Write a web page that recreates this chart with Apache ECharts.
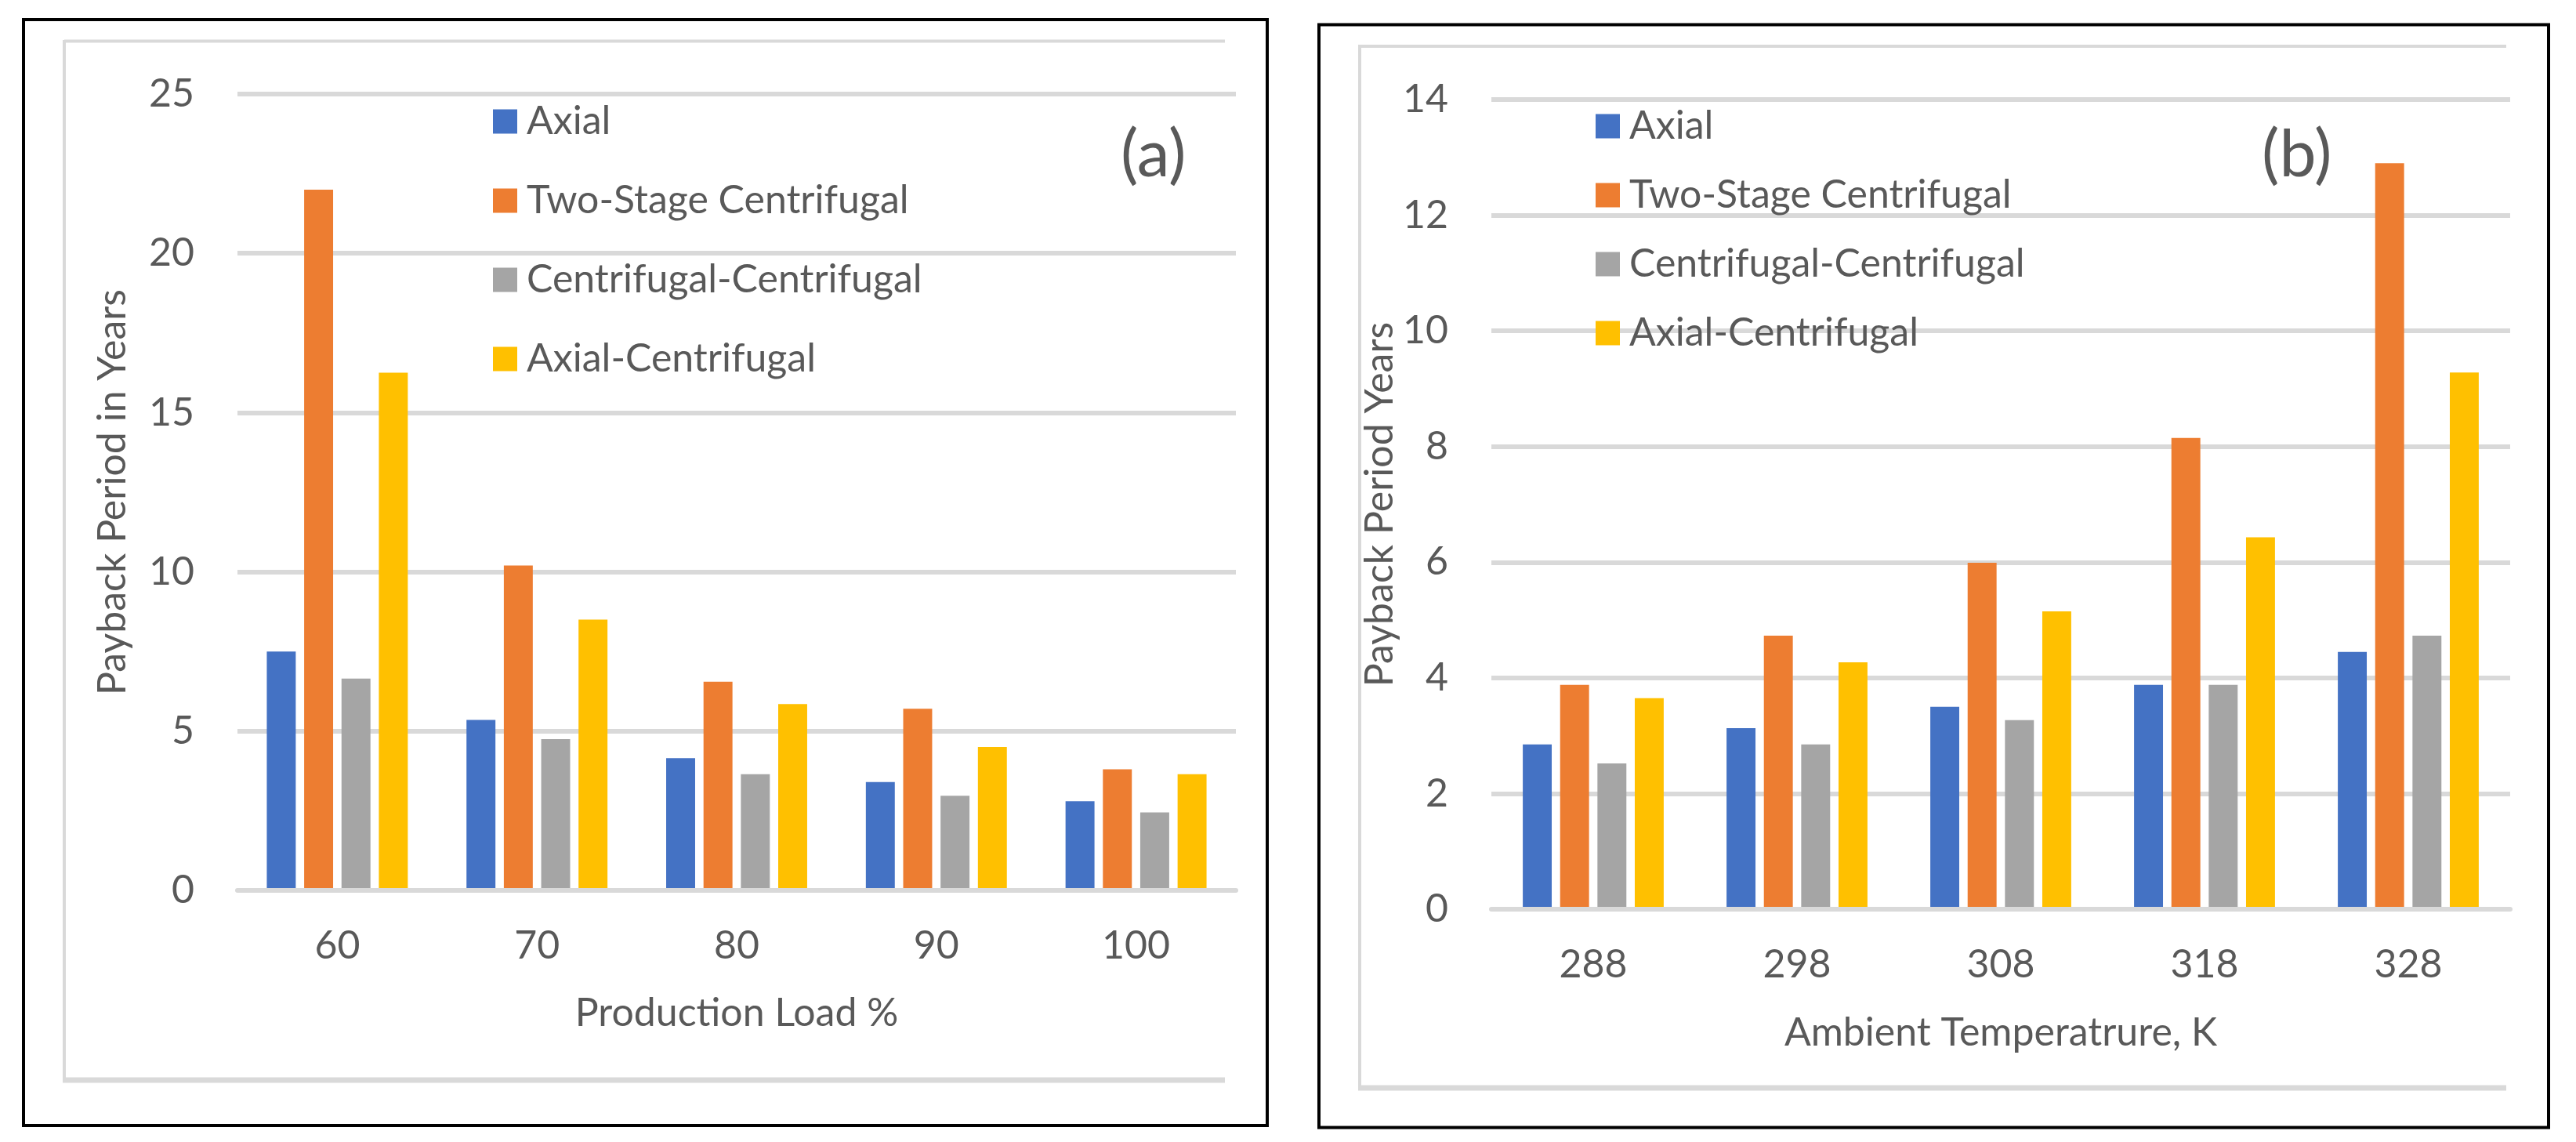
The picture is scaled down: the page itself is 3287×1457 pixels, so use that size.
<!DOCTYPE html>
<html>
<head>
<meta charset="utf-8">
<script src="https://cdn.jsdelivr.net/npm/echarts@6/dist/echarts.min.js"></script>
<style>
html,body{margin:0;padding:0;background:#fff;}
#chart{width:3287px;height:1457px;}
</style>
</head>
<body>
<div id="chart"></div>
<script>
// ---- data ----
const seriesNames = ['Axial', 'Two-Stage Centrifugal', 'Centrifugal-Centrifugal', 'Axial-Centrifugal'];
const loadCategories = ['60', '70', '80', '90', '100'];
const tempCategories = ['288', '298', '308', '318', '328'];

const loadAxial = [7.5, 5.35, 4.15, 3.4, 2.8];
const loadTwoStage = [22.0, 10.2, 6.55, 5.7, 3.8];
const loadCentCent = [6.65, 4.75, 3.65, 2.97, 2.45];
const loadAxialCent = [16.25, 8.5, 5.85, 4.5, 3.65];

const tempAxial = [2.85, 3.13, 3.5, 3.88, 4.45];
const tempTwoStage = [3.88, 4.73, 5.99, 8.15, 12.9];
const tempCentCent = [2.52, 2.85, 3.27, 3.88, 4.73];
const tempAxialCent = [3.65, 4.27, 5.15, 6.43, 9.28];

const loadTicks = {min: 0, max: 25, interval: 5};
const tempTicks = {min: 0, max: 14, interval: 2};

// ---- style ----
const colors = ['#4472C4', '#ED7D31', '#A5A5A5', '#FFC000'];
const FONT = 'Lato';
const TXT = '#595959';
const GRIDC = '#D9D9D9';
const FS = 50;

const chart = echarts.init(document.getElementById('chart'));

function mkSeries(name, data, idx, color, bw) {
  return {
    name: name, type: 'bar', data: data,
    xAxisIndex: idx, yAxisIndex: idx,
    barWidth: bw, barGap: '29%',
    itemStyle: {color: color},
    emphasis: {disabled: true}
  };
}

function mkY(idx, ticks, name, gap) {
  return {
    type: 'value', gridIndex: idx,
    min: ticks.min, max: ticks.max, interval: ticks.interval,
    name: name, nameLocation: 'middle', nameGap: gap,
    nameTextStyle: {fontFamily: FONT, fontSize: FS, color: TXT},
    axisLine: {show: false}, axisTick: {show: false},
    axisLabel: {fontFamily: FONT, fontSize: FS, color: TXT, margin: 55},
    splitLine: {lineStyle: {color: GRIDC, width: 6}}
  };
}

function mkX(idx, cats, name, gap) {
  return {
    type: 'category', gridIndex: idx, data: cats, z: 3,
    name: name, nameLocation: 'middle', nameGap: gap,
    nameTextStyle: {fontFamily: FONT, fontSize: FS, color: TXT},
    axisLine: {show: true, lineStyle: {color: GRIDC, width: 6}},
    axisTick: {show: false},
    axisLabel: {fontFamily: FONT, fontSize: FS, color: TXT, margin: 46}
  };
}

function mkLegend(left, top, gap) {
  return {
    data: seriesNames, orient: 'vertical', left: left, top: top,
    icon: 'rect', itemWidth: 31, itemHeight: 31, itemGap: gap,
    selectedMode: false,
    textStyle: {fontFamily: FONT, fontSize: FS, color: TXT, padding: [0, 0, 0, 7]}
  };
}

const option = {
  animation: false,
  backgroundColor: '#fff',
  color: colors,
  grid: [
    {left: 303, right: 3287 - 1577, top: 120, bottom: 1457 - 1136},
    {left: 1903, right: 3287 - 3203, top: 127, bottom: 1457 - 1160}
  ],
  xAxis: [
    mkX(0, loadCategories, 'Production Load %', 132),
    mkX(1, tempCategories, 'Ambient Temperatrure, K', 133)
  ],
  yAxis: [
    mkY(0, loadTicks, 'Payback Period in Years', 134),
    mkY(1, tempTicks, 'Payback Period Years', 101)
  ],
  legend: [
    mkLegend(624, 125, 51),
    mkLegend(2031, 131, 38)
  ],
  series: [
    mkSeries(seriesNames[0], loadAxial, 0, colors[0], '14.5%'),
    mkSeries(seriesNames[1], loadTwoStage, 0, colors[1], '14.5%'),
    mkSeries(seriesNames[2], loadCentCent, 0, colors[2], '14.5%'),
    mkSeries(seriesNames[3], loadAxialCent, 0, colors[3], '14.5%'),
    mkSeries(seriesNames[0], tempAxial, 1, colors[0], '14.2%'),
    mkSeries(seriesNames[1], tempTwoStage, 1, colors[1], '14.2%'),
    mkSeries(seriesNames[2], tempCentCent, 1, colors[2], '14.2%'),
    mkSeries(seriesNames[3], tempAxialCent, 1, colors[3], '14.2%')
  ],
  graphic: [
    // panel (a) frame
    {type: 'rect', shape: {x: 30, y: 25, width: 1587, height: 1411}, style: {fill: null, stroke: '#000', lineWidth: 4}, silent: true},
    {type: 'line', shape: {x1: 82, y1: 52.5, x2: 1563, y2: 52.5}, style: {stroke: GRIDC, lineWidth: 4}, silent: true},
    {type: 'line', shape: {x1: 82, y1: 51, x2: 82, y2: 1381}, style: {stroke: GRIDC, lineWidth: 4}, silent: true},
    {type: 'line', shape: {x1: 80, y1: 1378, x2: 1563, y2: 1378}, style: {stroke: GRIDC, lineWidth: 7}, silent: true},
    {type: 'text', left: 1430, top: 156, style: {text: '(a)', fontFamily: FONT, fontSize: 84, fill: TXT}, silent: true},
    // panel (b) frame
    {type: 'rect', shape: {x: 1683, y: 31.5, width: 1569, height: 1407}, style: {fill: null, stroke: '#000', lineWidth: 4}, silent: true},
    {type: 'line', shape: {x1: 1735, y1: 59, x2: 3198, y2: 59}, style: {stroke: GRIDC, lineWidth: 4}, silent: true},
    {type: 'line', shape: {x1: 1735, y1: 57, x2: 1735, y2: 1391}, style: {stroke: GRIDC, lineWidth: 4}, silent: true},
    {type: 'line', shape: {x1: 1733, y1: 1388, x2: 3198, y2: 1388}, style: {stroke: GRIDC, lineWidth: 7}, silent: true},
    {type: 'text', left: 2886, top: 156, style: {text: '(b)', fontFamily: FONT, fontSize: 84, fill: TXT}, silent: true}
  ]
};

chart.setOption(option);
</script>
</body>
</html>
